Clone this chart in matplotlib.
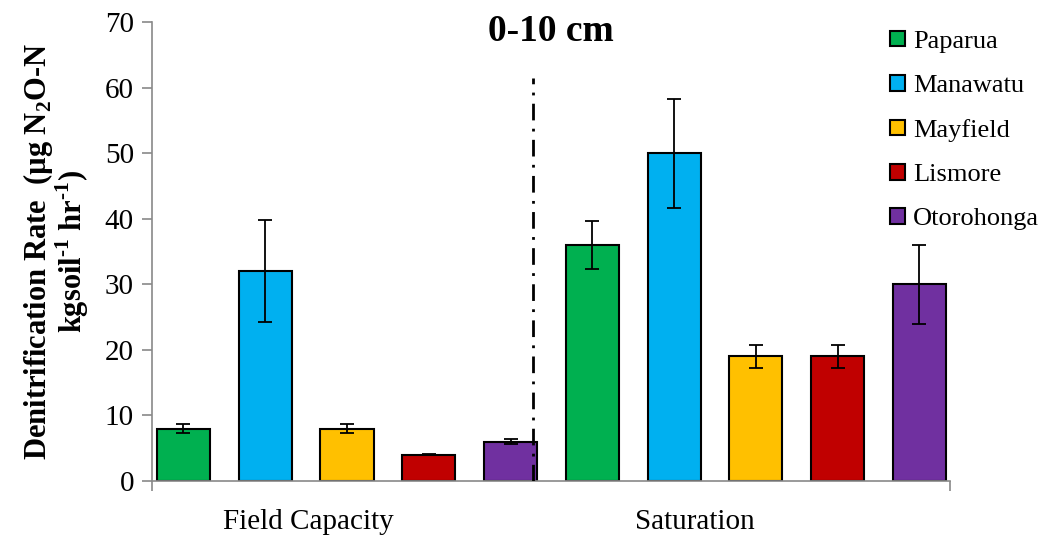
import matplotlib.pyplot as plt
import numpy as np

plt.rcParams['font.family'] = ['Liberation Serif', 'DejaVu Serif']
plt.rcParams['mathtext.fontset'] = 'custom'
plt.rcParams['mathtext.rm'] = 'Liberation Serif'
plt.rcParams['mathtext.bf'] = 'Liberation Serif:bold'

# data
sites = ['Paparua', 'Manawatu', 'Mayfield', 'Lismore', 'Otorohonga']
colors = ['#00B050', '#00B0F0', '#FFC000', '#C00000', '#7030A0']
conditions = ['Field Capacity', 'Saturation']
fc_mean = [8, 32, 8, 4, 6]
fc_err = [0.7, 7.8, 0.7, 0.1, 0.4]
sat_mean = [36, 50, 19, 19, 30]
sat_err = [3.7, 8.3, 1.8, 1.7, 6.0]

fig = plt.figure(figsize=(10.62, 5.41), dpi=100)
ax = fig.add_axes([0.1431, 0.1109, 0.7514, 0.8484])

n = len(sites)
for i in range(n):
    for k, (m, e) in enumerate([(fc_mean, fc_err), (sat_mean, sat_err)]):
        ax.bar(i + k * n, m[i], width=0.65, color=colors[i], edgecolor='black',
               linewidth=1.5, label=sites[i] if k == 0 else None, zorder=2)
        ax.errorbar(i + k * n, m[i], yerr=e[i], color='black', capsize=5,
                    elinewidth=1.3, capthick=1.3, zorder=3)

# divider between the two conditions
ax.plot([4.28, 4.28], [0, 61.5], color='black', linewidth=2,
        linestyle=(0, (6, 3, 1, 3)), zorder=4)

ax.set_xlim(-0.385, 9.373)
ax.set_ylim(0, 70)
ax.set_yticks(range(0, 71, 10))
ax.set_xticks([-0.385, 9.373])
ax.set_xticklabels([])
ax.tick_params(axis='y', labelsize=21, length=7, width=1.2, color='#898989', pad=6)
ax.tick_params(axis='x', length=7, width=1.2, color='#898989')

for s in ['top', 'right']:
    ax.spines[s].set_visible(False)
for s in ['left', 'bottom']:
    ax.spines[s].set_color('#898989')
    ax.spines[s].set_linewidth(1.2)

# category labels
ax.text(1.53, -6.3, conditions[0], fontsize=21, ha='center', va='center')
ax.text(6.25, -6.3, conditions[1], fontsize=21, ha='center', va='center')

ax.set_title('0-10 cm', fontsize=27, fontweight='bold', y=0.94)

ax.set_ylabel('Denitrification Rate  (µg N$_\\mathbf{2}$O-N\nkgsoil$^{\\mathbf{\\text{-}1}}$ hr$^{\\mathbf{\\text{-}1}}$)',
              fontsize=22, fontweight='bold', labelpad=10, linespacing=0.95)

fig.legend(loc='upper left', bbox_to_anchor=(0.826, 0.968), frameon=False,
           fontsize=19, handlelength=0.55, handleheight=0.55, handletextpad=0.3,
           labelspacing=0.83, borderpad=0)

fig.savefig('out.png', dpi=100)
